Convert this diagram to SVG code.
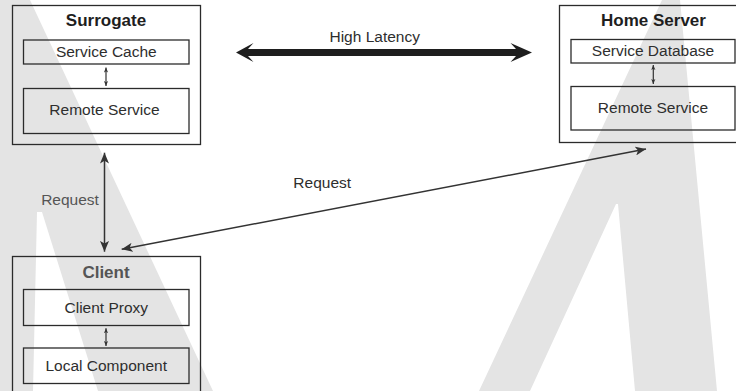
<svg xmlns="http://www.w3.org/2000/svg" width="736" height="391" viewBox="0 0 736 391">
  <style>
    .box { fill: none; stroke: #2b2b2b; stroke-width: 1.3; }
    .t { font-family: "Liberation Sans", Arial, sans-serif; font-size: 15.5px; fill: #2e2e2e; text-anchor: middle; }
    .title { font-family: "Liberation Sans", Arial, sans-serif; font-size: 17px; font-weight: bold; fill: #1e1e1e; text-anchor: middle; }
    .soft { fill: #555; }
    .link { fill: none; stroke: #333; stroke-width: 1.5; }
    .mini { fill: none; stroke: #333; stroke-width: 1.2; }
    .wm { fill: #e4e4e4; }
  </style>
  <defs>
    <marker id="head" viewBox="0 0 12 10" refX="12" refY="5" markerUnits="userSpaceOnUse" markerWidth="11" markerHeight="9" orient="auto-start-reverse">
      <path d="M0,0 L12,5 L0,10 L3,5 Z" fill="#333"/>
    </marker>
    <marker id="headSmall" viewBox="0 0 12 10" refX="12" refY="5" markerUnits="userSpaceOnUse" markerWidth="5" markerHeight="5" orient="auto-start-reverse">
      <path d="M0,0 L12,5 L0,10 L3,5 Z" fill="#333"/>
    </marker>
  </defs>

  <rect width="736" height="391" fill="#fff"/>

  <!-- background watermark strokes -->
  <g id="watermark">
    <polygon class="wm" points="0,0 30,0 213,391 98,391 42,212 37,212 33,391 0,391"/>
    <polygon class="wm" points="479,391 662,0 680,0 717,391 635,391 618,204 616,204 530,391"/>
  </g>

  <!-- Surrogate -->
  <g id="surrogate">
    <rect class="box" x="12.5" y="5.5" width="188" height="139"/>
    <text class="title" x="106" y="26">Surrogate</text>
    <rect class="box" x="23.5" y="40" width="165.5" height="24"/>
    <text class="t" x="106.3" y="57.3">Service Cache</text>
    <rect class="box" x="23.5" y="88.5" width="165.5" height="45"/>
    <text class="t" x="104.5" y="114.5">Remote Service</text>
  </g>

  <!-- Home Server -->
  <g id="home-server">
    <rect class="box" x="559.5" y="5.5" width="190" height="137"/>
    <text class="title" x="653.5" y="26">Home Server</text>
    <rect class="box" x="571" y="39.5" width="164" height="23.5"/>
    <text class="t" x="653" y="56">Service Database</text>
    <rect class="box" x="571" y="86.5" width="164" height="43.5"/>
    <text class="t" x="653" y="113.3">Remote Service</text>
  </g>

  <!-- Client -->
  <g id="client">
    <rect class="box" x="12.5" y="256.5" width="188" height="150"/>
    <text class="title soft" x="106" y="277.5">Client</text>
    <rect class="box" x="23.5" y="289.5" width="165.5" height="36"/>
    <text class="t" x="106.3" y="313.3">Client Proxy</text>
    <rect class="box" x="23.5" y="348" width="165.5" height="35.5"/>
    <text class="t" x="106.2" y="370.8">Local Component</text>
  </g>

  <!-- connectors -->
  <g id="connectors">
    <path fill="#1e1e1e" d="M236,52.5 L253.5,43 L248,49 L516,49 L510.5,43 L532,52.5 L510.5,62 L516,56 L248,56 L253.5,62 Z"/>
    <text class="t" x="374.7" y="41.7">High Latency</text>

    <line class="link" x1="104.5" y1="152.7" x2="104.5" y2="251.7" marker-start="url(#head)" marker-end="url(#head)"/>
    <text class="t soft" x="70" y="204.5">Request</text>

    <line class="link" x1="121.7" y1="249.3" x2="646" y2="149" marker-start="url(#head)" marker-end="url(#head)"/>
    <text class="t" x="322.2" y="188.3">Request</text>

    <line class="mini" x1="106" y1="67.5" x2="106" y2="86" marker-start="url(#headSmall)" marker-end="url(#headSmall)"/>
    <line class="mini" x1="653.3" y1="65" x2="653.3" y2="84" marker-start="url(#headSmall)" marker-end="url(#headSmall)"/>
    <line class="mini" x1="106" y1="328.3" x2="106" y2="346" marker-start="url(#headSmall)" marker-end="url(#headSmall)"/>
  </g>
</svg>
